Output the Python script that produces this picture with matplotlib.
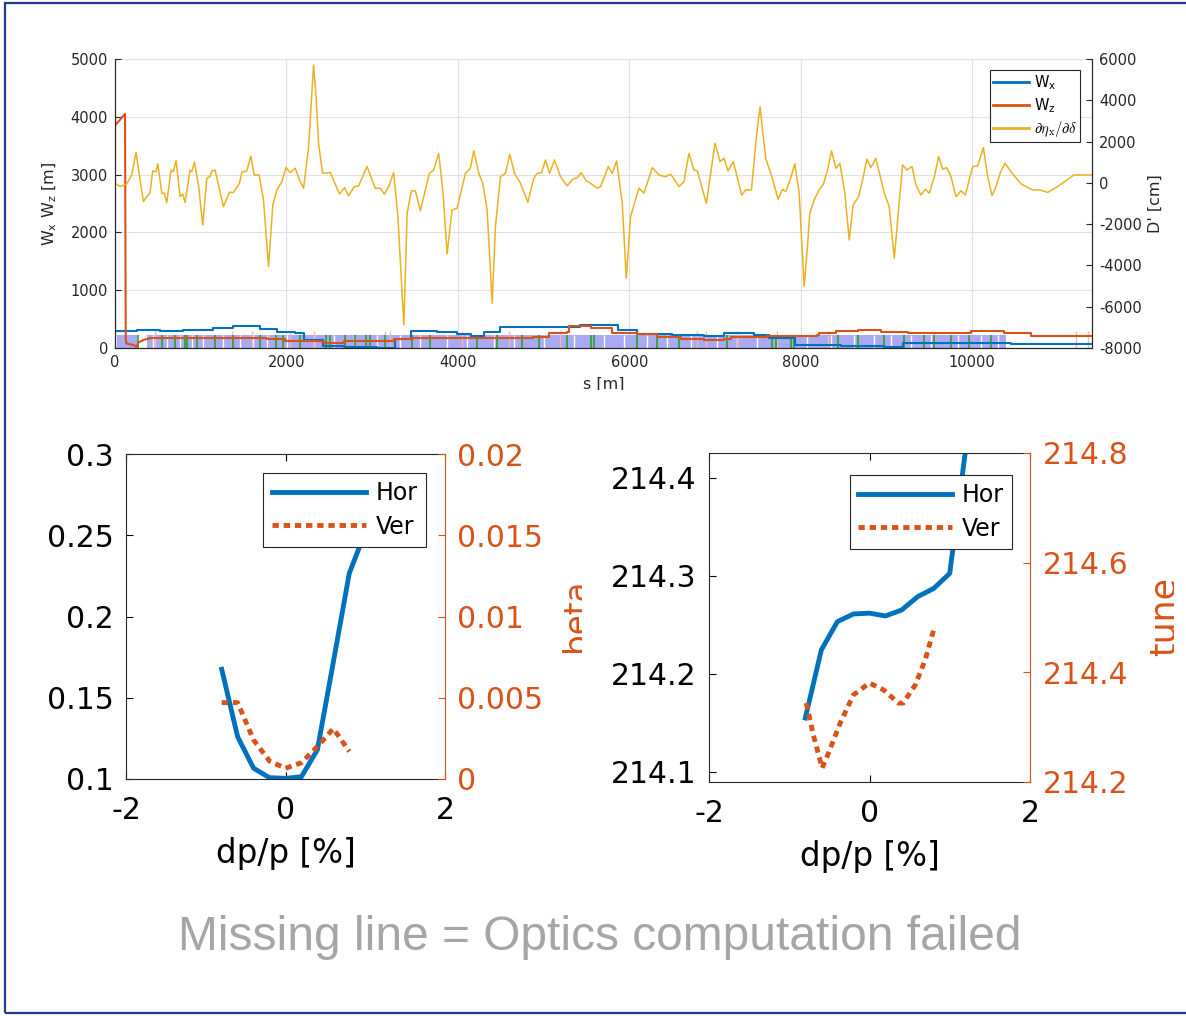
import numpy as np
import matplotlib
matplotlib.use("Agg")
import matplotlib.pyplot as plt
from matplotlib.patches import Rectangle
from matplotlib.transforms import Bbox, TransformedBbox

BLUE, ORANGE, YELLOW = "#0072BD", "#D95319", "#EDB120"
DARK = "#262626"
W, H = 1186, 1016
plt.rcParams.update({"axes.unicode_minus": False, "font.family": "DejaVu Sans"})

# ---------------- top panel: W functions + dD/ddelta along the ring ----------------
wx_s = [0, 253, 526, 798, 1148, 1382, 1694, 1889, 2100, 2208, 2426, 2667, 3057, 3271,
        3454, 3760, 3992, 4150, 4303, 4498, 5420, 5869, 6095, 6500, 6873, 7106, 7457,
        7632, 7932, 8470, 8976, 9190, 9716, 10222, 10455, 11300, 11400]
wx_v = [294, 311, 294, 311, 340, 380, 323, 282, 265, 138, 40, 22, 5, 150,
        294, 270, 237, 213, 282, 369, 398, 311, 242, 220, 208, 254, 225,
        167, 52, 35, 22, 81, 92, 81, 64, 69, 69]

wz_head_s = [0, 0, 117, 125, 130, 214, 253, 272, 331, 409]
wz_head_v = [0, 3850, 4050, 200, 80, 52, 22, 92, 138, 167]
wz_s = [409, 1772, 1986, 2414, 2450, 2667, 3251, 3466, 4883, 5062, 5277, 5296, 5549,
        5802, 6095, 6328, 6600, 6873, 7106, 7184, 7379, 7613, 8197, 8216, 8411, 8664,
        8937, 9249, 9988, 10374, 10689, 11400]
wz_v = [167, 150, 127, 110, 92, 127, 150, 167, 185, 265, 282, 380, 340,
        265, 237, 185, 150, 138, 150, 185, 196, 208, 231, 254, 294, 311,
        282, 265, 300, 254, 213, 213]

dd_s = [0, 60, 136, 195, 245, 331, 370, 409, 440, 479, 499, 546, 576, 604, 654, 681,
        713, 759, 791, 818, 876, 896, 927, 974, 1024, 1071, 1110, 1130, 1168, 1265,
        1335, 1382, 1452, 1480, 1538, 1585, 1624, 1682, 1733, 1791, 1842, 1889, 1947,
        1994, 2044, 2103, 2153, 2200, 2258, 2317, 2348, 2375, 2422, 2512, 2620, 2679,
        2725, 2792, 2842, 2940, 3037, 3096, 3143, 3193, 3252, 3302, 3370, 3409, 3458,
        3505, 3563, 3668, 3718, 3777, 3828, 3875, 3933, 3992, 4089, 4147, 4186, 4245,
        4291, 4342, 4401, 4439, 4498, 4556, 4607, 4661, 4731, 4817, 4887, 4926, 4977,
        5023, 5070, 5128, 5198, 5277, 5335, 5394, 5440, 5499, 5549, 5627, 5666, 5756,
        5802, 5853, 5919, 5966, 6016, 6113, 6172, 6270, 6347, 6425, 6484, 6581, 6639,
        6697, 6756, 6795, 6900, 7001, 7060, 7106, 7153, 7215, 7312, 7359, 7426, 7488,
        7527, 7555, 7593, 7671, 7737, 7788, 7827, 7885, 7932, 7983, 8041, 8080, 8107,
        8158, 8216, 8267, 8314, 8361, 8411, 8458, 8516, 8567, 8613, 8676, 8723, 8773,
        8820, 8878, 8976, 9034, 9093, 9139, 9190, 9240, 9299, 9346, 9404, 9455, 9502,
        9560, 9611, 9658, 9705, 9755, 9813, 9872, 9922, 10008, 10066, 10132, 10183,
        10233, 10280, 10330, 10385, 10455, 10572, 10630, 10708, 10786, 10884, 11000,
        11187, 11400]
dd_v = [-20, -180, -50, 380, 1480, -910, -670, -500, 580, 540, 920, -500, -500, -960, 620, 540,
        1080, -670, -540, -960, 620, 540, 1010, -100, -2040, 220, 300, 580, 620, -1150,
        -460, -460, -20, 510, 580, 1300, 380, 380, -830, -4060, -1070, -340, 60,
        740, 500, 710, 140, -260, 1680, 5710, 4020, 1920, 460, 500, -540, -230,
        -630, -180, -150, 790, -260, -260, -550, -180, 500, -1710, -6880, -1470, -390,
        -390, -1350, 460, 620, 1430, -500, -3450, -1310, -1230, 460, 710, 1560, 460,
        -20, -1310, -5830, -2120, 300, 460, 1380, 460, -20, -940, 220, 460, 500,
        1110, 460, 1110, 300, -150, 170, 250, 500, 90, -20, -260, -180, 790,
        460, 1060, -990, -4620, -1640, -260, -500, 740, 380, 300, 420, -180, 60,
        1430, 620, 580, -990, 1920, 1030, 1190, 580, 1030, -590, -340, -340, 2400,
        3690, 2560, 1190, 220, -790, -310, -430, 250, 920, -500, -5020, -3090, -1470,
        -830, -340, -50, 620, 1550, 710, 950, -500, -2770, -1070, -670, 140, 1140,
        740, 1190, -500, -1150, -3650, -1470, 870, 620, 790, -100, -590, -310, -500,
        300, 1270, 660, 740, 300, -670, -380, -590, 790, 820, 1710, 300,
        -620, -180, 500, 950, 540, -50, -180, -340, -340, -460, -180,
        380, 380]
assert len(dd_s) == len(dd_v)

# lattice sketch (bends band, gaps, quads, sextupoles)
band_start = [20, 370]
band_end = [253, 10400]
band_h = 225
gap_s = [448, 604, 759, 896, 1032, 1265, 1460, 1616, 1772, 2006, 2317, 2550, 2784, 3057,
         3329, 3563, 3875, 4108, 4419, 4653, 5004, 5354, 5705, 5938, 6211, 6445, 6717,
         7029, 7263, 7496, 8080, 8353, 8625, 8859, 9054, 9287, 9521, 9833, 10105, 10300]
pink_s = [467, 1363, 1597, 2044, 2317, 3154, 3213, 4050, 4595, 5198, 6795, 6892, 7262,
          7730, 8314, 9560, 11215, 11351]
sext_s = [272, 545, 701, 818, 845, 954, 1168, 1382, 1694, 1881, 1959, 2153, 2465, 2512,
          2687, 2804, 2932, 2971, 3154, 3466, 3680, 4225, 4459, 4751, 4945, 5277, 5549,
          5588, 6095, 6328, 6581, 7146, 7671, 7710, 7885, 7924, 8431, 8664, 8976, 9209,
          9443, 9560, 9755, 9969, 10222]

# ---------------- bottom panels: chromatic scans ----------------
dp = [-0.8, -0.6, -0.4, -0.2, 0.0, 0.2, 0.4, 0.6, 0.8, 1.0]
beta_hor = [0.1675, 0.126, 0.1066, 0.1008, 0.1004, 0.1014, 0.118, 0.172, 0.2266, 0.252]
dp_ver = [-0.8, -0.6, -0.4, -0.2, 0.0, 0.2, 0.4, 0.6, 0.8]
beta_ver = [0.0047, 0.0047, 0.0024, 0.0011, 0.00066, 0.001, 0.002, 0.0031, 0.0017]

dp_tune = [-0.8, -0.6, -0.4, -0.2, 0.0, 0.2, 0.4, 0.6, 0.8, 1.0, 1.2]
tune_hor = [214.155, 214.2244, 214.2532, 214.261, 214.2618, 214.259, 214.265, 214.2786,
            214.287, 214.3024, 214.43]
dp_tune_v = [-0.79, -0.76, -0.70, -0.59, -0.51, -0.365, -0.2, 0.0, 0.175, 0.36, 0.42,
             0.57, 0.695, 0.8]
tune_ver = [214.344, 214.326, 214.286, 214.2255, 214.253, 214.3076, 214.359, 214.3805,
            214.368, 214.344, 214.344, 214.377, 214.423, 214.478]

fig = plt.figure(figsize=(W / 100, H / 100), dpi=100)


def fig_clip(x0, y0, x1, y1):
    # clip box given in figure pixels measured from the top-left corner
    return TransformedBbox(Bbox([[x0 / W, 1 - y1 / H], [x1 / W, 1 - y0 / H]]), fig.transFigure)


# slide frame
fig.patches.append(Rectangle((5 / W, 3 / H), 1.2, 1010 / H, transform=fig.transFigure,
                             fill=False, ec="#233a8c", lw=1.6))

# ---- top ----
ax = fig.add_axes([115 / W, 1 - 348 / H, 977 / W, 289 / H])
ax.bar(band_start, band_h, width=np.subtract(band_end, band_start), align="edge",
       color="#a9a9f4", lw=0, zorder=1)
ax.vlines(gap_s, 0, band_h, color="white", lw=1.0, zorder=1.1)
ax.vlines(pink_s, 0, 300, color="#ffb4b4", lw=1.0, zorder=1.2)
ax.vlines(sext_s, 0, 230, color="#24a324", lw=1.2, zorder=1.3)
h_wx, = ax.plot(wx_s, wx_v, drawstyle="steps-post", color=BLUE, lw=1.5, zorder=3)
h_wz, = ax.plot(wz_head_s, wz_head_v, color=ORANGE, lw=1.5, zorder=3.1)
ax.plot(wz_s, wz_v, drawstyle="steps-post", color=ORANGE, lw=1.5, zorder=3.1)
ax.set_xlim(0, 11400)
ax.set_ylim(0, 5000)
ax.set_xticks(range(0, 11000, 2000))
ax.set_yticks(range(0, 5001, 1000))
ax.grid(True, color="#e2e2e2", lw=0.8)
ax.set_axisbelow(True)
ax.tick_params(direction="in", length=4, labelsize=10.5, colors=DARK, pad=5)
ax.set_ylabel("W$_\\mathrm{x}$ W$_\\mathrm{z}$ [m]", fontsize=11.5, color=DARK, labelpad=8)
xl = ax.set_xlabel("s [m]", fontsize=11.5, color=DARK, labelpad=5)
xl.set_clip_box(fig_clip(0, 0, W, 390))

ax2 = ax.twinx()
h_dd, = ax2.plot(dd_s, dd_v, color=YELLOW, lw=1.1)
ax2.set_ylim(-8000, 6000)
ax2.set_yticks(range(-8000, 6001, 2000))
ax2.tick_params(direction="in", length=4, labelsize=10.5, colors=DARK, pad=5)
ax2.set_ylabel("D' [cm]", fontsize=11.5, color=DARK)
for a in (ax, ax2):
    a.spines["top"].set_visible(False)
    for sp in a.spines.values():
        sp.set_color(DARK)
        sp.set_linewidth(0.8)
leg = ax2.legend([h_wx, h_wz, h_dd],
                 ["W$_\\mathrm{x}$", "W$_\\mathrm{z}$", "$\\partial\\eta_\\mathrm{x}/\\partial\\delta$"],
                 loc="upper right", bbox_to_anchor=(0.9877, 0.962), borderaxespad=0,
                 fontsize=10.5, handlelength=2.5, handletextpad=0.3, labelspacing=0.3,
                 borderpad=0.2, fancybox=False, edgecolor=DARK, framealpha=1)
leg.get_frame().set_linewidth(0.8)
for lh in leg.get_lines():
    lh.set_linewidth(2)
leg.get_texts()[2].set_math_fontfamily("cm")


def style_bottom(a, ar):
    a.set_xlim(-2, 2)
    a.set_xticks([-2, 0, 2])
    a.tick_params(axis="both", direction="in", length=5, labelsize=21.5, colors="black",
                  top=True, right=False)
    a.tick_params(axis="y", pad=9)
    a.tick_params(axis="x", pad=12)
    ar.tick_params(axis="y", direction="in", length=5, labelsize=21.5, colors=ORANGE, pad=9)
    for sp in ("left", "top", "bottom"):
        a.spines[sp].set_color(DARK)
        a.spines[sp].set_linewidth(0.8)
        ar.spines[sp].set_visible(False)
    a.spines["right"].set_visible(False)
    ar.spines["right"].set_color(ORANGE)
    ar.spines["right"].set_linewidth(0.8)
    a.set_xlabel("dp/p [%]", fontsize=23.5, labelpad=9)


def bottom_legend(ar, handles, anchor):
    lg = ar.legend(handles, ["Hor", "Ver"], loc="upper right", bbox_to_anchor=anchor,
                   borderaxespad=0, fontsize=17, handlelength=4.0, handletextpad=0.4,
                   labelspacing=0.4, borderpad=0.35, fancybox=False, edgecolor=DARK,
                   framealpha=1)
    lg.get_frame().set_linewidth(0.8)


# ---- bottom left: beta ----
bl = fig.add_axes([126 / W, 1 - 779 / H, 319 / W, 325 / H])
hh, = bl.plot(dp, beta_hor, color=BLUE, lw=3.5)
bl.set_ylim(0.1, 0.3)
bl.set_yticks([0.1, 0.15, 0.2, 0.25, 0.3], ["0.1", "0.15", "0.2", "0.25", "0.3"])
blr = bl.twinx()
hv, = blr.plot(dp_ver, beta_ver, color=ORANGE, lw=3.5, ls=(0, (1.3, 1.0)))
blr.set_ylim(0, 0.02)
blr.set_yticks([0, 0.005, 0.01, 0.015, 0.02], ["0", "0.005", "0.01", "0.015", "0.02"])
style_bottom(bl, blr)
bottom_legend(blr, [hh, hv], (0.940, 0.9415))
tb = fig.text(560 / W, 1 - 615 / H, "beta", rotation=90, ha="left", va="center",
              fontsize=23.5, color=ORANGE)
tb.set_clip_box(fig_clip(0, 0, 582, H))

# ---- bottom right: tune ----
br = fig.add_axes([709 / W, 1 - 782 / H, 321 / W, 329 / H])
hh2, = br.plot(dp_tune, tune_hor, color=BLUE, lw=3.5)
br.set_ylim(214.0898, 214.425)
br.set_yticks([214.1, 214.2, 214.3, 214.4], ["214.1", "214.2", "214.3", "214.4"])
brr = br.twinx()
hv2, = brr.plot(dp_tune_v, tune_ver, color=ORANGE, lw=3.5, ls=(0, (1.3, 1.0)))
brr.set_ylim(214.2, 214.8)
brr.set_yticks([214.2, 214.4, 214.6, 214.8], ["214.2", "214.4", "214.6", "214.8"])
style_bottom(br, brr)
bottom_legend(brr, [hh2, hv2], (0.944, 0.933))
tt = fig.text(1148 / W, 1 - 617 / H, "tune", rotation=90, ha="left", va="center",
              fontsize=25, color=ORANGE)
tt.set_clip_box(fig_clip(0, 0, 1174, H))

fig.text(600 / W, 1 - 938 / H, "Missing line = Optics computation failed", ha="center",
         va="center", fontsize=34.5, color="#a6a6a6", family="Liberation Sans")

fig.savefig("out.png", dpi=100)
